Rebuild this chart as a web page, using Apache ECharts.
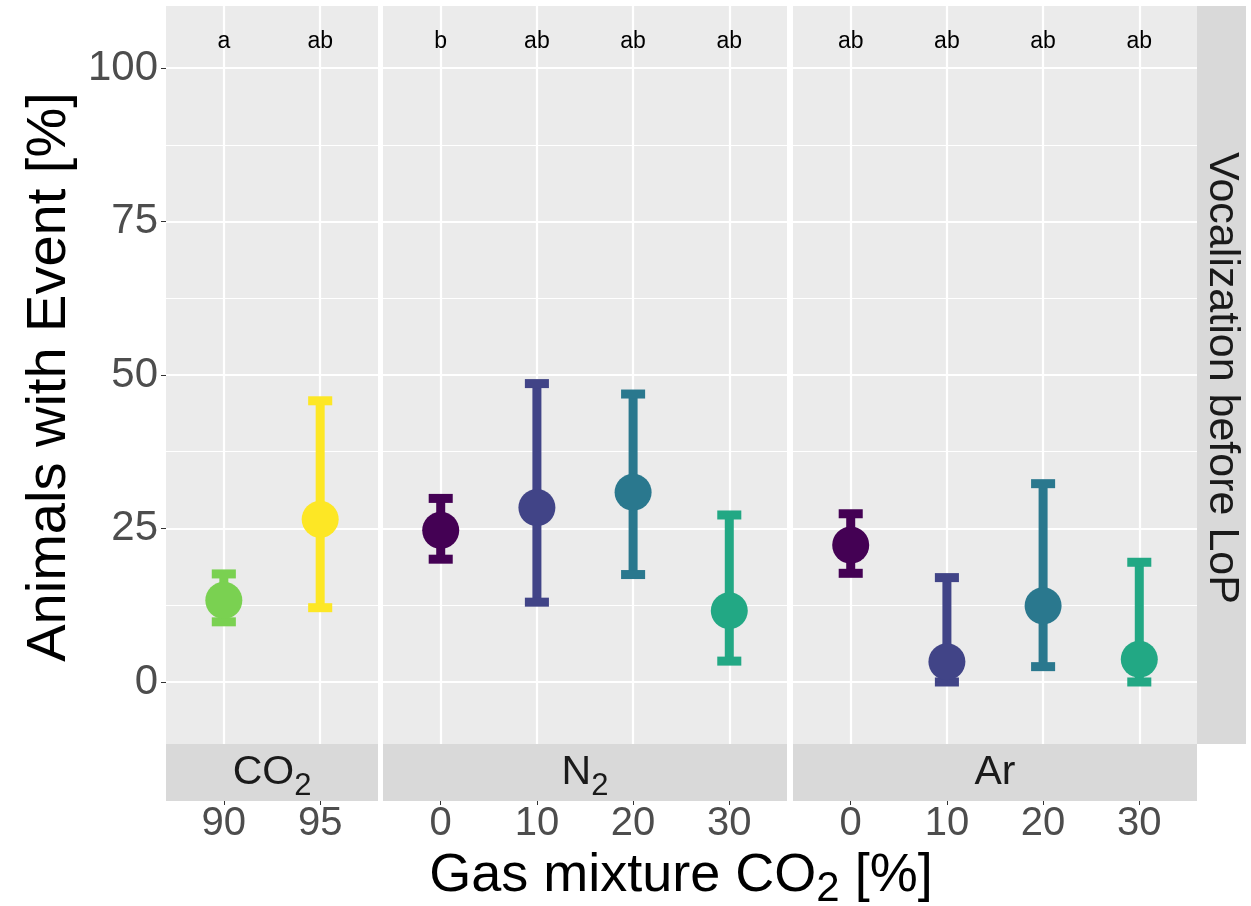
<!DOCTYPE html>
<html><head><meta charset="utf-8">
<script src="https://cdn.jsdelivr.net/npm/echarts@6/dist/echarts.min.js"></script>
<style>html,body{margin:0;padding:0;background:#fff}#c{width:1251px;height:906px}</style>
</head><body><div id="c"></div>
<script>
// ---------------- data ----------------
const panelNames = ['CO2', 'N2', 'Ar'];
const co2Levels = ['90', '95'];
const n2Levels = ['0', '10', '20', '30'];
const arLevels = ['0', '10', '20', '30'];
const co2Mean = [13.3, 26.5];
const co2Lower = [9.8, 12.1];
const co2Upper = [17.6, 45.8];
const co2Letters = ['a', 'ab'];
const n2Mean = [24.7, 28.4, 30.9, 11.6];
const n2Lower = [20.0, 13.0, 17.5, 3.4];
const n2Upper = [29.9, 48.6, 46.9, 27.2];
const n2Letters = ['b', 'ab', 'ab', 'ab'];
const arMean = [22.3, 3.3, 12.4, 3.7];
const arLower = [17.7, 0, 2.5, 0];
const arUpper = [27.4, 17.0, 32.3, 19.5];
const arLetters = ['ab', 'ab', 'ab', 'ab'];
const yTicks = [0, 25, 50, 75, 100];
const yMinorTicks = [12.5, 37.5, 62.5, 87.5];
const letterY = 104.3;
const yMin = -10.1, yMax = 110.1;
const capWidth = 0.25; // in category units

// ---------------- style ----------------
const colorLevels = ['0', '10', '20', '30', '90', '95'];
const viridis6 = ['#440154', '#414487', '#2A788E', '#22A884', '#7AD151', '#FDE725'];
const colorOf = lv => viridis6[colorLevels.indexOf(lv)];
const FONT = '"Liberation Sans", Arial, Helvetica, sans-serif';
const boxes = [{ left: 166, width: 212 }, { left: 383, width: 404 }, { left: 793, width: 404 }];
const TOP = 6, HEIGHT = 738;

const panels = [
  { levels: co2Levels, mean: co2Mean, lower: co2Lower, upper: co2Upper, letters: co2Letters },
  { levels: n2Levels, mean: n2Mean, lower: n2Lower, upper: n2Upper, letters: n2Letters },
  { levels: arLevels, mean: arMean, lower: arLower, upper: arUpper, letters: arLetters }
];

const grid = [], xAxis = [], yAxis = [], series = [];
panels.forEach((p, i) => {
  const n = p.levels.length;
  const idx = p.levels.map((_, k) => k);
  grid.push({ left: boxes[i].left, top: TOP, width: boxes[i].width, height: HEIGHT,
    show: true, backgroundColor: '#EBEBEB', borderWidth: 0 });
  xAxis.push({
    gridIndex: i, type: 'value', min: -0.6, max: n - 0.4, offset: 57, position: 'bottom',
    axisLine: { show: false, onZero: false },
    axisTick: { show: true, length: 4, customValues: idx, lineStyle: { color: '#333333', width: 1 } },
    axisLabel: { customValues: idx, formatter: v => p.levels[Math.round(v)], color: '#4D4D4D',
      fontSize: 40, fontFamily: FONT, margin: 3 },
    splitLine: { show: true, lineStyle: { color: '#FFFFFF', width: 2.2 } }
  });
  yAxis.push({
    gridIndex: i, type: 'value', min: yMin, max: yMax, position: 'left',
    axisLine: { show: false, onZero: false },
    axisTick: { show: i === 0, length: 5, customValues: yTicks, lineStyle: { color: '#333333', width: 1 } },
    axisLabel: { show: i === 0, customValues: yTicks, color: '#4D4D4D', fontSize: 42, fontFamily: FONT, margin: 8 },
    splitLine: { show: true, lineStyle: { color: '#FFFFFF', width: 2.2 } }
  });
  yAxis.push({
    gridIndex: i, type: 'value', min: yMin, max: yMax, position: 'left',
    axisLine: { show: false, onZero: false },
    axisTick: { show: false, customValues: yMinorTicks },
    axisLabel: { show: false },
    splitLine: { show: true, lineStyle: { color: '#FFFFFF', width: 1.1 } }
  });
  const yIdx = i * 2;
  series.push({
    type: 'custom', xAxisIndex: i, yAxisIndex: yIdx, z: 3,
    data: idx.map(k => [k, p.lower[k], p.upper[k]]),
    encode: { x: 0, y: [1, 2] },
    renderItem: (params, api) => {
      const x = api.value(0);
      const lo = api.coord([x, api.value(1)]);
      const hi = api.coord([x, api.value(2)]);
      const half = api.size([capWidth, 0])[0] / 2;
      const style = { stroke: colorOf(p.levels[params.dataIndex]), lineWidth: 9, fill: null };
      return { type: 'group', children: [
        { type: 'line', shape: { x1: hi[0], y1: hi[1], x2: lo[0], y2: lo[1] }, style },
        { type: 'line', shape: { x1: hi[0] - half, y1: hi[1], x2: hi[0] + half, y2: hi[1] }, style },
        { type: 'line', shape: { x1: lo[0] - half, y1: lo[1], x2: lo[0] + half, y2: lo[1] }, style }
      ] };
    }
  });
  series.push({
    type: 'scatter', xAxisIndex: i, yAxisIndex: yIdx, z: 4, symbol: 'circle', symbolSize: 37,
    data: idx.map(k => ({ value: [k, p.mean[k]], itemStyle: { color: colorOf(p.levels[k]), opacity: 1 } }))
  });
  series.push({
    type: 'scatter', xAxisIndex: i, yAxisIndex: yIdx, z: 5, symbolSize: 1,
    itemStyle: { color: 'rgba(0,0,0,0)' },
    data: idx.map(k => [k, letterY, p.letters[k]]),
    label: { show: true, position: 'inside', formatter: d => d.data[2], color: '#000000',
      fontSize: 23, fontFamily: FONT, opacity: 1 }
  });
});

function subText(main, sub, after, F, f, off, color) {
  return {
    text: '{m|' + main + '}{s|' + sub + '}' + (after ? '{m|' + after + '}' : ''),
    rich: {
      m: { fontSize: F, lineHeight: F, fontFamily: FONT, fill: color, verticalAlign: 'middle' },
      s: { fontSize: f, lineHeight: f, fontFamily: FONT, fill: color, verticalAlign: 'middle', padding: [2 * off, 0, 0, 0] }
    }
  };
}

const stripTop = TOP + HEIGHT, stripH = 57;
const graphic = [];
boxes.forEach((b, i) => {
  graphic.push({ type: 'rect', z: 0, shape: { x: b.left, y: stripTop, width: b.width, height: stripH },
    style: { fill: '#D9D9D9' } });
});
graphic.push({ type: 'rect', z: 0, shape: { x: 1197, y: TOP, width: 49, height: HEIGHT }, style: { fill: '#D9D9D9' } });
const stripLabels = [subText('CO', '2', '', 41, 31, 14, '#1A1A1A'), subText('N', '2', '', 41, 31, 14, '#1A1A1A'), { text: 'Ar' }];
boxes.forEach((b, i) => {
  const s = stripLabels[i];
  graphic.push({ type: 'text', z: 10, x: b.left + b.width / 2, y: stripTop + stripH / 2,
    style: Object.assign({ fontSize: 41, fontFamily: FONT, fill: '#1A1A1A', align: 'center', verticalAlign: 'middle' }, s) });
});
graphic.push({ type: 'text', z: 10, x: 1221.5, y: TOP + HEIGHT / 2 + 3, rotation: -Math.PI / 2,
  style: { text: 'Vocalization before LoP', fontSize: 43, fontFamily: FONT, fill: '#1A1A1A', align: 'center', verticalAlign: 'middle' } });
graphic.push({ type: 'text', z: 10, x: 50, y: TOP + HEIGHT / 2 + 2, rotation: Math.PI / 2,
  style: { text: 'Animals with Event [%]', fontSize: 56, fontFamily: FONT, fill: '#000000', align: 'center', verticalAlign: 'middle' } });
const xt = subText('Gas mixture CO', '2', ' [%]', 54, 42, 13, '#000000');
graphic.push({ type: 'text', z: 10, x: 681, y: 876,
  style: Object.assign({ fontSize: 54, fontFamily: FONT, fill: '#000', align: 'center', verticalAlign: 'middle' }, xt) });

const chart = echarts.init(document.getElementById('c'), null, { renderer: 'canvas' });
chart.setOption({
  backgroundColor: '#FFFFFF',
  animation: false,
  grid, xAxis, yAxis, series, graphic
});
</script></body></html>
